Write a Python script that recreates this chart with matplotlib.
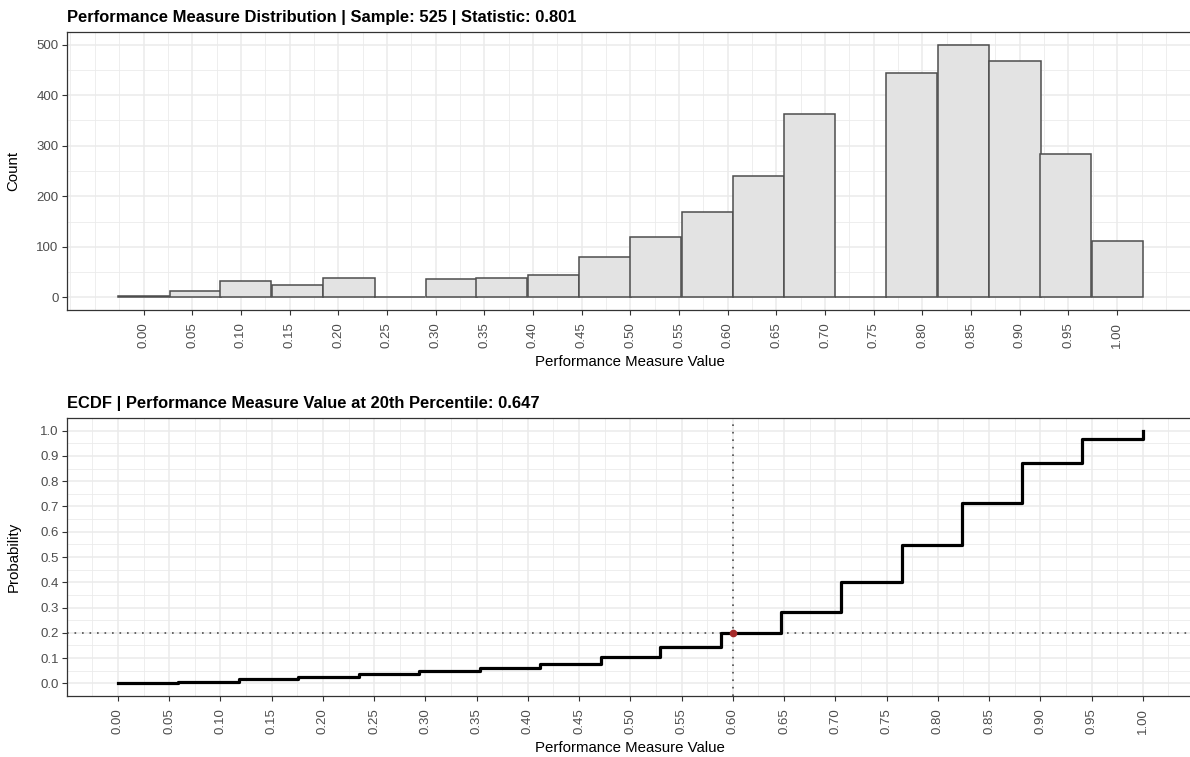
import matplotlib.pyplot as plt

plt.rcParams['font.family'] = ['Liberation Sans', 'DejaVu Sans']

# histogram (20 bins over 0..1, bin width 1/19)
bin_centers = [0.000, 0.053, 0.105, 0.158, 0.211, 0.263, 0.316, 0.368, 0.421, 0.474,
               0.526, 0.579, 0.632, 0.684, 0.737, 0.789, 0.842, 0.895, 0.947, 1.000]
bin_width = 0.0526
counts = [2, 12, 33, 24, 38, 0, 37, 38, 45, 80,
          120, 168, 241, 362, 0, 443, 500, 467, 284, 111]

# ecdf steps
ecdf_x = [0.000, 0.059, 0.118, 0.176, 0.235, 0.294, 0.353, 0.412, 0.471,
          0.529, 0.588, 0.647, 0.706, 0.765, 0.824, 0.882, 0.941, 1.000]
ecdf_y = [0.001, 0.005, 0.016, 0.024, 0.036, 0.047, 0.062, 0.076, 0.104,
          0.143, 0.200, 0.281, 0.400, 0.548, 0.714, 0.870, 0.966, 1.000]

sample_size = 525
statistic = 0.801
pct_prob = 0.2
pct_value = 0.647
marker_x = 0.60

x_ticks = [i * 0.05 for i in range(21)]

fig = plt.figure(figsize=(11.9, 7.57), dpi=100)
W, H = 1190, 757
left, right = 66.7, 1194
ax1 = fig.add_axes([left / W, 1 - 310 / H, (right - left) / W, 278 / H])
ax2 = fig.add_axes([left / W, 1 - 696 / H, (right - left) / W, 278 / H])


def style(ax, xlim, ylim, yticks, yminor, ylabels):
    ax.set_xticks(x_ticks, labels=["%.2f" % t for t in x_ticks], rotation=90)
    minor_x = [-0.075 + 0.05 * i for i in range(24)] + [-0.05 + 0.1 * i for i in range(12)]
    ax.set_xticks([m for m in minor_x if xlim[0] <= m <= xlim[1]], minor=True)
    ax.set_yticks(yticks, labels=ylabels)
    ax.set_yticks(yminor, minor=True)
    ax.set_xlim(*xlim)
    ax.set_ylim(*ylim)
    ax.grid(which='major', color='#EBEBEB', lw=1.1, zorder=0)
    ax.grid(which='minor', color='#EBEBEB', lw=0.6, zorder=0)
    ax.set_axisbelow(True)
    ax.tick_params(which='major', length=3.4, width=0.8, color='#333333',
                   labelcolor='#4D4D4D', labelsize=9.5)
    ax.tick_params(axis='x', which='major', pad=5.5)
    ax.tick_params(axis='y', which='major', pad=2.5)
    ax.tick_params(which='minor', length=0)
    for s in ax.spines.values():
        s.set_color('#333333')
        s.set_linewidth(0.9)
    ax.set_xlabel("Performance Measure Value", fontsize=10.8, labelpad=5)


# top: histogram
ax1.bar(bin_centers, counts, width=bin_width, color='#E3E3E3',
        edgecolor='#4D4D4D', linewidth=1.1, zorder=3)
style(ax1, (-0.0789, 1.0789), (-25, 525), [0, 100, 200, 300, 400, 500],
      [50, 150, 250, 350, 450], ["0", "100", "200", "300", "400", "500"])
ax1.set_ylabel("Count", fontsize=10.8)
ax1.yaxis.set_label_coords(-0.041, 0.5)
ax1.set_title("Performance Measure Distribution | Sample: %d | Statistic: %.3f" % (sample_size, statistic),
              loc='left', fontweight='bold', fontsize=11.9, pad=7.2)

# bottom: ecdf
ax2.axhline(pct_prob, color='#4D4D4D', lw=1.2, ls=(0, (1, 3.5)), zorder=2)
ax2.axvline(marker_x, color='#4D4D4D', lw=1.2, ls=(0, (1, 3.5)), zorder=2)
ax2.plot(ecdf_x, ecdf_y, drawstyle='steps-post', color='black', lw=2.3, zorder=3)
ax2.plot([marker_x], [pct_prob], 'o', color='#A52A2A', markersize=4.5, zorder=4)
yt = [i / 10 for i in range(11)]
style(ax2, (-0.05, 1.05), (-0.05, 1.05), yt, [0.05 + 0.1 * i for i in range(10)],
      ["%.1f" % t for t in yt])
ax2.set_ylabel("Probability", fontsize=10.8)
ax2.yaxis.set_label_coords(-0.041, 0.5)
ax2.set_title("ECDF | Performance Measure Value at 20th Percentile: %.3f" % pct_value,
              loc='left', fontweight='bold', fontsize=11.9, pad=7.2)

fig.savefig("out.png", dpi=100)
